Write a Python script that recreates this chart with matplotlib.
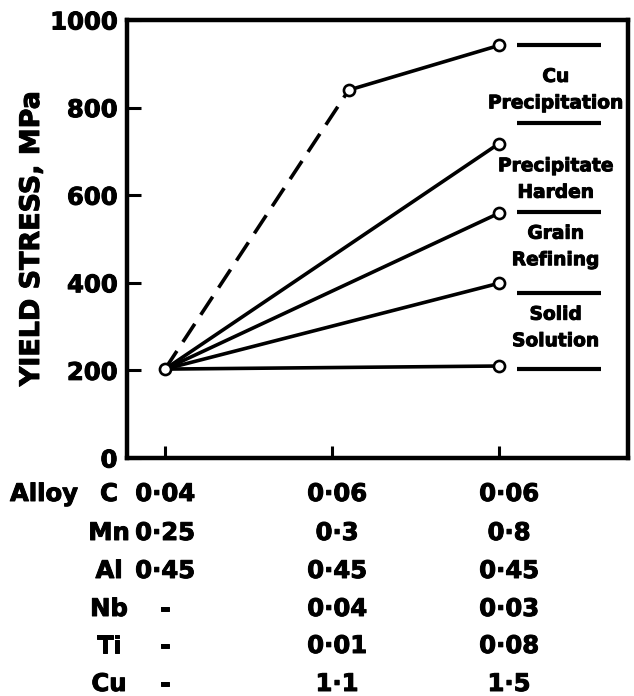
import numpy as np
import matplotlib
matplotlib.use("Agg")
import matplotlib.pyplot as plt
import matplotlib.patheffects as pe

# yield stress (MPa)
base_x = 0
base_y = 203
end_x = 2
end_y = [210, 399, 559, 718]          # solid lines, bottom to top
cu_x = [0, 1.1, 2]
cu_y = [203, 840, 942]

# dividers and mechanism labels on the right
divider_y = [943, 764, 562, 377, 203]
divider_x = [2.11, 2.61]
mech_labels = ['Cu\nPrecipitation', 'Precipitate\nHarden', 'Grain\nRefining', 'Solid\nSolution']
mech_y = [841, 637, 483, 298]
mech_x = 2.34

yticks = [0, 200, 400, 600, 800, 1000]

# alloy composition table
elements = ['C', 'Mn', 'Al', 'Nb', 'Ti', 'Cu']
alloy1 = ['0·04', '0·25', '0·45', '-', '-', '-']
alloy2 = ['0·06', '0·3', '0·45', '0·04', '0·01', '1·1']
alloy3 = ['0·06', '0·8', '0·45', '0·03', '0·08', '1·5']

plt.rcParams['font.family'] = ['DejaVu Sans']
plt.rcParams['font.weight'] = 'bold'

# make the bold a bit heavier, like the scanned original
heavy = [pe.withStroke(linewidth=0.7, foreground='black')]

W, H = 634, 696
fig = plt.figure(figsize=(W / 100, H / 100), dpi=100)
ax = fig.add_axes([127 / W, 1 - 458 / H, (628 - 127) / W, (458 - 20) / H])

lw = 2.6
mk = dict(marker='o', markersize=8, markerfacecolor='white',
          markeredgecolor='black', markeredgewidth=1.9)

for y in end_y:
    ax.plot([base_x, end_x], [base_y, y], color='black', lw=lw, zorder=2)
    ax.plot([end_x], [y], ls='none', zorder=3, **mk)

ax.plot(cu_x[:2], cu_y[:2], color='black', lw=lw, dashes=(6, 3), zorder=2)
ax.plot(cu_x[1:], cu_y[1:], color='black', lw=lw, zorder=2)
ax.plot(cu_x[1:], cu_y[1:], ls='none', zorder=3, **mk)
ax.plot([base_x], [base_y], ls='none', zorder=3, **mk)

for y in divider_y:
    ax.plot(divider_x, [y, y], color='black', lw=3, solid_capstyle='butt')

for lab, y in zip(mech_labels, mech_y):
    ax.text(mech_x, y, lab, ha='center', va='center', fontsize=13.4,
            fontweight='bold', linespacing=1.5, path_effects=heavy)

ax.set_xlim(-0.2275, 2.772)
ax.set_ylim(0, 1000)
ax.set_xticks([0, 1, 2])
ax.set_xticklabels([])
ax.set_yticks(yticks)
ax.set_yticklabels([str(t) for t in yticks], fontsize=17.5, fontweight='bold')
for t in ax.get_yticklabels():
    t.set_path_effects(heavy)
ax.tick_params(axis='both', direction='in', width=2.2, color='black')
ax.tick_params(axis='y', length=10, pad=7)
ax.tick_params(axis='x', length=9)
for s in ax.spines.values():
    s.set_linewidth(3.2)

fig.text(32 / W, 1 - 239 / H, 'YIELD STRESS, MPa', rotation=90, ha='center',
         va='center', fontsize=19.4, fontweight='bold', path_effects=heavy)

# composition table under the axis
row_y = [494, 533, 571, 609, 646, 684]
fs = 17.5
fig.text(10 / W, 1 - row_y[0] / H, 'Alloy', ha='left', va='center', fontsize=fs,
         fontweight='bold', path_effects=heavy)
for i, yy in enumerate(row_y):
    fy = 1 - yy / H
    for xp, txt in [(109, elements[i]), (165, alloy1[i]), (337, alloy2[i]), (509, alloy3[i])]:
        fig.text(xp / W, fy, txt, ha='center', va='center', fontsize=fs,
                 fontweight='bold', path_effects=heavy)

fig.savefig('out.png', dpi=100)
